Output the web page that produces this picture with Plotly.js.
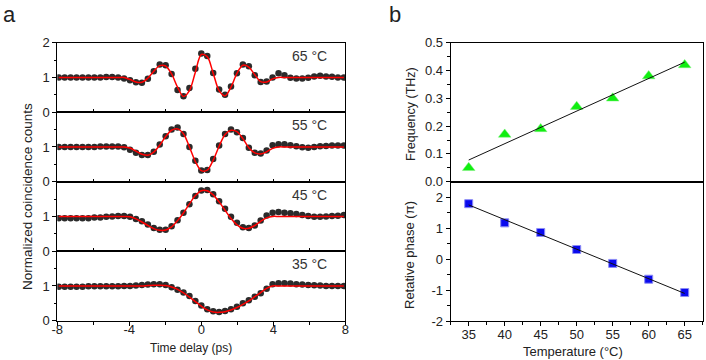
<!DOCTYPE html>
<html>
<head>
<meta charset="utf-8">
<script src="https://cdn.plot.ly/plotly-3.0.1.min.js"></script>
<style>
  html, body { margin: 0; padding: 0; background: #fff; }
  #graph { width: 706px; height: 360px; }
</style>
</head>
<body>
<div id="graph"></div>
<script>
// panel a: time delay (ps) and normalized coincidence counts
const times = [-7.92, -7.59, -7.26, -6.93, -6.6, -6.27, -5.94, -5.61, -5.28, -4.95, -4.62, -4.29,
  -3.96, -3.63, -3.3, -2.97, -2.64, -2.31, -1.98, -1.65, -1.32, -0.99, -0.66, -0.33, 0,
  0.33, 0.66, 0.99, 1.32, 1.65, 1.98, 2.31, 2.64, 2.97, 3.3, 3.63, 3.96, 4.29, 4.62,
  4.95, 5.28, 5.61, 5.94, 6.27, 6.6, 6.93, 7.26, 7.59, 7.92];

const counts65 = [1.0, 1.0, 1.0, 1.0, 1.0, 1.0, 1.0, 1.0, 1.01, 1.01, 1.0, 0.97,
  0.92, 0.86, 0.85, 0.96, 1.18, 1.37, 1.35, 1.1, 0.64, 0.46, 0.7, 1.25, 1.69,
  1.62, 1.13, 0.65, 0.5, 0.74, 1.12, 1.37, 1.32, 1.06, 0.87, 0.88, 1.0, 1.12, 1.06,
  0.99, 0.97, 0.97, 0.99, 1.03, 1.05, 1.03, 1.02, 1.0, 1.0];
const fit65 = [1.0, 1.0, 1.0, 1.0, 1.0, 1.0, 1.0, 1.0, 1.0, 1.0, 1.0, 1.0,
  0.94, 0.87, 0.86, 0.98, 1.18, 1.34, 1.33, 1.1, 0.72, 0.45, 0.62, 1.15, 1.66,
  1.6, 1.12, 0.62, 0.47, 0.72, 1.12, 1.35, 1.3, 1.08, 0.88, 0.87, 0.96, 1.0, 1.0,
  1.0, 1.0, 1.0, 1.0, 1.0, 1.0, 1.0, 1.0, 1.0, 1.0];

const counts55 = [1.0, 1.0, 1.0, 1.0, 1.0, 1.0, 1.0, 1.01, 1.01, 1.01, 1.01, 0.99,
  0.92, 0.83, 0.77, 0.77, 0.86, 1.07, 1.31, 1.5, 1.56, 1.37, 1.0, 0.6, 0.32,
  0.34, 0.65, 1.04, 1.37, 1.5, 1.42, 1.26, 0.98, 0.83, 0.81, 0.9, 1.05, 1.08, 1.08,
  1.05, 1.02, 0.99, 0.98, 1.0, 1.02, 1.03, 1.04, 1.04, 1.04];
const fit55 = [1.0, 1.0, 1.0, 1.0, 1.0, 1.0, 1.0, 1.0, 1.0, 1.0, 1.0, 1.0,
  0.97, 0.88, 0.79, 0.76, 0.85, 1.05, 1.3, 1.48, 1.52, 1.38, 1.0, 0.58, 0.32,
  0.33, 0.62, 1.02, 1.36, 1.48, 1.44, 1.24, 0.98, 0.83, 0.8, 0.86, 0.96, 1.0, 1.0,
  1.0, 1.0, 1.0, 1.0, 1.0, 1.0, 1.0, 1.0, 1.0, 1.0];

const counts45 = [0.95, 0.95, 0.95, 0.95, 0.95, 0.95, 0.97, 0.97, 0.99, 1.0, 1.01, 1.01,
  0.99, 0.93, 0.86, 0.77, 0.67, 0.62, 0.62, 0.72, 0.89, 1.11, 1.35, 1.59, 1.75,
  1.76, 1.64, 1.44, 1.22, 0.99, 0.82, 0.69, 0.67, 0.74, 0.88, 1.03, 1.11, 1.13, 1.11,
  1.09, 1.07, 1.04, 1.01, 0.99, 0.99, 1.0, 1.01, 1.02, 1.04];
const fit45 = [1.0, 1.0, 1.0, 1.0, 1.0, 1.0, 1.0, 1.0, 1.0, 1.0, 1.0, 1.0,
  0.99, 0.93, 0.84, 0.74, 0.65, 0.6, 0.61, 0.7, 0.88, 1.1, 1.36, 1.6, 1.74,
  1.74, 1.62, 1.42, 1.18, 0.94, 0.76, 0.66, 0.66, 0.74, 0.86, 0.96, 1.0, 1.0, 1.0,
  1.0, 1.0, 1.0, 1.0, 1.0, 1.0, 1.0, 1.0, 1.0, 1.0];

const counts35 = [0.98, 0.98, 0.98, 0.98, 0.98, 0.99, 0.99, 0.99, 0.99, 0.99, 0.99, 1.0,
  1.0, 1.01, 1.03, 1.04, 1.05, 1.05, 1.03, 0.96, 0.89, 0.81, 0.71, 0.57, 0.44,
  0.33, 0.27, 0.25, 0.28, 0.33, 0.4, 0.5, 0.59, 0.69, 0.79, 0.92, 1.05, 1.08, 1.08,
  1.07, 1.05, 1.04, 1.03, 1.02, 1.01, 1.0, 1.0, 1.0, 1.0];
const fit35 = [1.0, 1.0, 1.0, 1.0, 1.0, 1.0, 1.0, 1.0, 1.0, 1.0, 1.0, 1.0,
  1.0, 1.0, 1.0, 1.01, 1.02, 1.02, 1.01, 0.97, 0.9, 0.8, 0.68, 0.55, 0.42,
  0.31, 0.25, 0.24, 0.26, 0.31, 0.38, 0.47, 0.57, 0.69, 0.81, 0.93, 1.0, 1.0, 1.0,
  1.0, 1.0, 1.0, 1.0, 1.0, 1.0, 1.0, 1.0, 1.0, 1.0];

const panelLabels = ["65 °C", "55 °C", "45 °C", "35 °C"];

// panel b: temperature dependence
const temps = [35, 40, 45, 50, 55, 60, 65];
const frequency = [0.05, 0.17, 0.19, 0.27, 0.30, 0.38, 0.42];
const phase = [1.79, 1.17, 0.86, 0.31, -0.14, -0.65, -1.08];
const fitTemps = [35, 65];
const frequencyFit = [0.078, 0.43];
const phaseFit = [1.75, -1.11];

const FONT = "Arial, 'Liberation Sans', sans-serif";
const W = 706, H = 360;
const px = v => v / W;
const py = v => 1 - v / H;

// row edges (pixels) of the four stacked plots in panel a
const rowEdges = [42.7, 112.2, 181.7, 251.2, 320.7];
const aX = [px(57.3), px(345.3)];
const bX = [px(450.7), px(702.7)];

const sets = [
  { counts: counts65, fit: fit65 },
  { counts: counts55, fit: fit55 },
  { counts: counts45, fit: fit45 },
  { counts: counts35, fit: fit35 }
];

const traces = [];
const layout = {
  width: W, height: H,
  margin: { l: 0, r: 0, t: 0, b: 0 },
  paper_bgcolor: "#fff", plot_bgcolor: "#fff",
  showlegend: false,
  font: { family: FONT, size: 13, color: "#222" },
  annotations: []
};

sets.forEach((s, i) => {
  const n = i + 1;
  const xa = n === 1 ? "x" : "x" + n;
  const ya = n === 1 ? "y" : "y" + n;
  traces.push({
    x: times, y: s.counts, xaxis: xa, yaxis: ya,
    type: "scatter", mode: "markers",
    marker: { symbol: "circle", size: 6.5, color: "#2b2b2b" }
  });
  traces.push({
    x: times, y: s.fit, xaxis: xa, yaxis: ya,
    type: "scatter", mode: "lines",
    line: { color: "#ff0000", width: 1.5, shape: "spline", smoothing: 0.9 }
  });

  const last = n === 4;
  layout["xaxis" + (n === 1 ? "" : n)] = {
    domain: aX, anchor: ya, range: [-8, 8],
    showline: true, linecolor: "#000", linewidth: 1, mirror: true,
    showgrid: false, zeroline: false,
    tickvals: last ? [-8, -4, 0, 4, 8] : [-6, -4, -2, 0, 2, 4, 6],
    ticktext: last ? ["-8", "-4", "0", "4", "8"] : undefined,
    showticklabels: last,
    ticklabelstandoff: last ? -7 : 0,
    ticks: last ? "outside" : "inside", ticklen: last ? 4 : 3, tickcolor: "#000",
    minor: last ? { tickvals: [-6, -2, 2, 6], ticks: "outside", ticklen: 3, tickcolor: "#000" } : undefined,
    tickfont: { family: FONT, size: 13, color: "#222" }
  };
  layout["yaxis" + (n === 1 ? "" : n)] = {
    domain: [py(rowEdges[n]), py(rowEdges[n - 1])], anchor: xa, range: [0, 2],
    showline: true, linecolor: "#000", linewidth: 1, mirror: true,
    showgrid: false, zeroline: false,
    tickvals: n === 1 ? [0, 1, 2] : [0, 1],
    ticks: "outside", ticklen: 4, tickcolor: "#000",
    minor: { tickvals: [0.5, 1.5], ticks: "outside", ticklen: 2.5, tickcolor: "#000" },
    tickfont: { family: FONT, size: 13, color: "#222" }
  };
  layout.annotations.push({
    xref: xa, yref: ya, x: 6.0, y: 1.62, text: panelLabels[i],
    showarrow: false, font: { family: FONT, size: 14, color: "#333" }
  });
});

// panel b top: frequency
traces.push({
  x: temps, y: frequency, xaxis: "x5", yaxis: "y5", type: "scatter", mode: "markers",
  marker: { symbol: "triangle-up", size: 11, color: "#11ee11", line: { color: "#7cf07c", width: 0.5 } }
});
traces.push({
  x: fitTemps, y: frequencyFit, xaxis: "x5", yaxis: "y5", type: "scatter", mode: "lines",
  line: { color: "#111", width: 1 }
});
// panel b bottom: relative phase
traces.push({
  x: temps, y: phase, xaxis: "x6", yaxis: "y6", type: "scatter", mode: "markers",
  marker: { symbol: "square", size: 8, color: "#0a0aee", line: { color: "#8c8cf5", width: 1 } }
});
traces.push({
  x: fitTemps, y: phaseFit, xaxis: "x6", yaxis: "y6", type: "scatter", mode: "lines",
  line: { color: "#111", width: 1 }
});

layout.xaxis5 = {
  domain: bX, anchor: "y5", range: [32.5, 67.5],
  showline: true, linecolor: "#000", linewidth: 1, mirror: true,
  showgrid: false, zeroline: false, showticklabels: false, ticks: ""
};
layout.yaxis5 = {
  domain: [py(181.7), py(42.7)], anchor: "x5", range: [0, 0.5],
  showline: true, linecolor: "#000", linewidth: 1, mirror: true,
  showgrid: false, zeroline: false,
  tickvals: [0, 0.1, 0.2, 0.3, 0.4, 0.5], tickformat: ".1f",
  ticks: "outside", ticklen: 4, tickcolor: "#000",
  minor: { tickvals: [0.05, 0.15, 0.25, 0.35, 0.45], ticks: "outside", ticklen: 2.5, tickcolor: "#000" },
  tickfont: { family: FONT, size: 13, color: "#222" }
};
layout.xaxis6 = {
  domain: bX, anchor: "y6", range: [32.5, 67.5],
  showline: true, linecolor: "#000", linewidth: 1, mirror: true,
  showgrid: false, zeroline: false,
  tickvals: [35, 40, 45, 50, 55, 60, 65],
  ticklabelstandoff: -3,
  ticks: "outside", ticklen: 4, tickcolor: "#000",
  minor: { tickvals: [32.5, 37.5, 42.5, 47.5, 52.5, 57.5, 62.5, 67.5], ticks: "outside", ticklen: 2.5, tickcolor: "#000" },
  tickfont: { family: FONT, size: 13, color: "#222" }
};
layout.yaxis6 = {
  domain: [py(321), py(181.7)], anchor: "x6", range: [-2, 2.5],
  showline: true, linecolor: "#000", linewidth: 1, mirror: true,
  showgrid: false, zeroline: false,
  tickvals: [-2, -1, 0, 1, 2], ticktext: ["-2", "-1", "0", "1", "2"],
  ticks: "outside", ticklen: 4, tickcolor: "#000",
  minor: { tickvals: [-1.5, -0.5, 0.5, 1.5], ticks: "outside", ticklen: 2.5, tickcolor: "#000" },
  tickfont: { family: FONT, size: 13, color: "#222" }
};

// titles and panel letters
const textAnn = (x, y, text, size, angle) => ({
  xref: "paper", yref: "paper", x: px(x), y: py(y), text: text,
  showarrow: false, textangle: angle || 0, xanchor: "center", yanchor: "middle",
  font: { family: FONT, size: size, color: "#222" }
});
layout.annotations.push(
  textAnn(9, 15, "a", 22),
  textAnn(395, 15, "b", 22),
  textAnn(27, 197, "Normalized coincidence counts", 13.5, -90),
  textAnn(191, 348, "Time delay (ps)", 12),
  textAnn(411, 114, "Frequency (THz)", 12.5, -90),
  textAnn(409, 255, "Retative phase (π)", 13, -90),
  textAnn(573, 351, "Temperature (°C)", 13)
);

Plotly.newPlot("graph", traces, layout, { staticPlot: true });
</script>
</body>
</html>
